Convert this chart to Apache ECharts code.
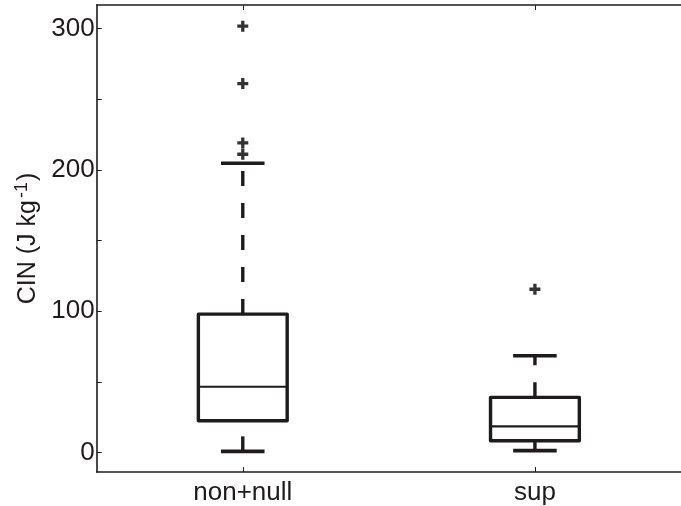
<!DOCTYPE html>
<html>
<head>
<meta charset="utf-8">
<script src="https://cdn.jsdelivr.net/npm/echarts@6/dist/echarts.min.js"></script>
<style>
html,body{margin:0;padding:0;background:#fff;}
#chart{width:681px;height:506px;}
</style>
</head>
<body>
<div id="chart"></div>
<script>
// ---- data ----
const categories = ['non+null', 'sup'];
const lowerWhisker = [0.8, 1.3];
const q1 = [22.5, 8.3];
const median = [46.5, 18.5];
const q3 = [97.9, 39.0];
const upperWhisker = [204.6, 68.4];
const outliersNonNull = [301.6, 261.0, 219.0, 211.0];
const outliersSup = [115.5];
const yMin = -13.8;
const yMax = 316.6;
const yTickStep = 50;
const yLabelStep = 100;

// ---- build series data ----
const boxData = categories.map((c, i) => [i, lowerWhisker[i], q1[i], median[i], q3[i], upperWhisker[i]]);
const outlierData = [];
outliersNonNull.forEach(v => outlierData.push([0, v]));
outliersSup.forEach(v => outlierData.push([1, v]));

const INK = '#1f1b1c';
const FONT = "'Liberation Sans', Arial, Helvetica, sans-serif";

function renderBox(params, api) {
  const x = api.value(0);
  const pLow = api.coord([x, api.value(1)]);
  const pQ1 = api.coord([x, api.value(2)]);
  const pMed = api.coord([x, api.value(3)]);
  const pQ3 = api.coord([x, api.value(4)]);
  const pHigh = api.coord([x, api.value(5)]);
  const band = api.size([1, 0])[0];
  const bw = band * 0.304;
  const cw = band * 0.149;
  const cx = pMed[0];
  const dash = { stroke: INK, lineWidth: 3.4, lineDash: [15, 17], lineCap: 'butt', fill: null };
  const solid = { stroke: INK, lineWidth: 3.6, lineCap: 'butt', fill: null };
  return {
    type: 'group',
    children: [
      { type: 'line', shape: { x1: cx, y1: pQ3[1], x2: cx, y2: pHigh[1] }, style: dash },
      { type: 'line', shape: { x1: cx, y1: pLow[1], x2: cx, y2: pQ1[1] }, style: dash },
      { type: 'line', shape: { x1: cx - cw / 2, y1: pHigh[1], x2: cx + cw / 2, y2: pHigh[1] }, style: solid },
      { type: 'line', shape: { x1: cx - cw / 2, y1: pLow[1], x2: cx + cw / 2, y2: pLow[1] }, style: solid },
      { type: 'rect', shape: { x: cx - bw / 2, y: pQ3[1], width: bw, height: pQ1[1] - pQ3[1] },
        style: { stroke: INK, lineWidth: 3.4, fill: null, lineJoin: 'round' } },
      { type: 'line', shape: { x1: cx - bw / 2, y1: pMed[1], x2: cx + bw / 2, y2: pMed[1] },
        style: { stroke: INK, lineWidth: 2.2, fill: null } }
    ]
  };
}

const chart = echarts.init(document.getElementById('chart'), null, { renderer: 'canvas' });
chart.setOption({
  animation: false,
  backgroundColor: '#fff',
  grid: { left: 96.7, top: 5, right: -9, bottom: 33.3 },
  xAxis: [
    {
      type: 'category', data: categories, position: 'bottom',
      axisLine: { show: true, onZero: false, lineStyle: { color: INK, width: 1.6 } },
      axisTick: { show: true, inside: true, alignWithLabel: true, length: 5, lineStyle: { color: INK, width: 1 } },
      axisLabel: { color: INK, fontSize: 26, fontFamily: FONT, margin: 8 },
      splitLine: { show: false }
    },
    {
      type: 'category', data: categories, position: 'top',
      axisLine: { show: true, onZero: false, lineStyle: { color: INK, width: 1.6 } },
      axisTick: { show: true, inside: true, alignWithLabel: true, length: 5, lineStyle: { color: INK, width: 1 } },
      axisLabel: { show: false },
      splitLine: { show: false }
    }
  ],
  yAxis: {
    type: 'value', min: yMin, max: yMax, minInterval: yTickStep, maxInterval: yTickStep,
    axisLine: { show: true, onZero: false, lineStyle: { color: INK, width: 1.6 } },
    axisTick: { show: true, inside: true, length: 5, lineStyle: { color: INK, width: 1 } },
    axisLabel: {
      color: INK, fontSize: 26, fontFamily: FONT, margin: 2,
      showMinLabel: false, showMaxLabel: false,
      formatter: v => (Math.abs(v % yLabelStep) < 1e-9 ? String(v) : '')
    },
    splitLine: { show: false },
    name: '{a|CIN (J kg}{s|-1}{a|)}',
    nameLocation: 'middle', nameRotate: 90, nameGap: 44,
    nameTextStyle: {
      rich: {
        a: { fontSize: 25, fontFamily: FONT, color: INK },
        s: { fontSize: 18, fontFamily: FONT, color: INK, verticalAlign: 'top', padding: [0, 1, 12, 2] }
      }
    }
  },
  series: [
    {
      type: 'custom', renderItem: renderBox, data: boxData,
      encode: { x: 0, y: [1, 2, 3, 4, 5] }, clip: false, silent: true
    },
    {
      type: 'scatter', data: outlierData, silent: true,
      symbol: 'path://M3.5,0H6.5V3.5H10V6.5H6.5V10H3.5V6.5H0V3.5H3.5Z',
      symbolSize: 11, itemStyle: { color: '#000' }
    }
  ]
});
</script>
</body>
</html>
